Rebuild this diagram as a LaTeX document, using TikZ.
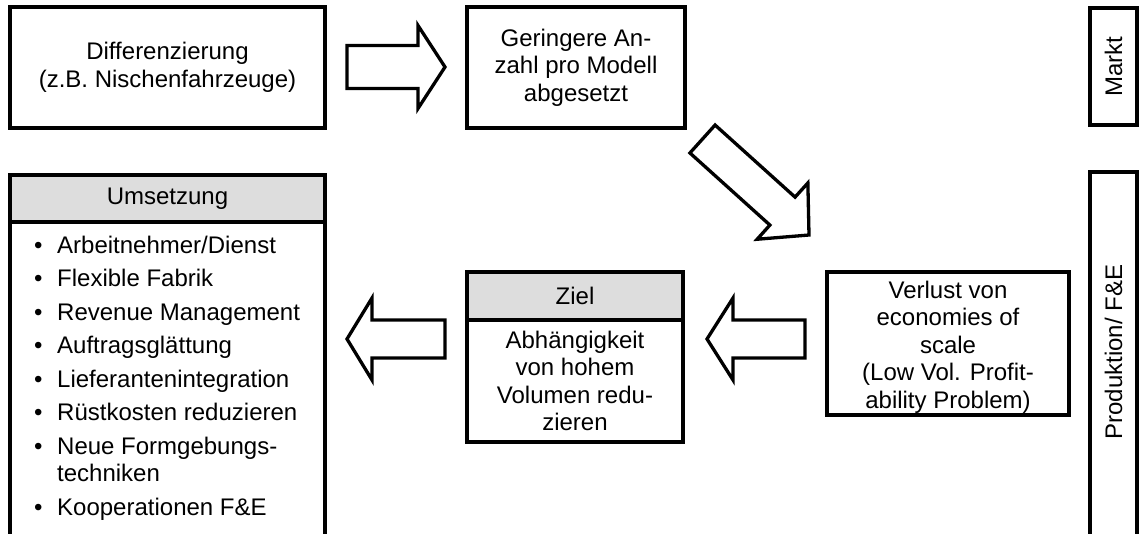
\documentclass[tikz,border=0pt]{standalone}
\usepackage{fontspec}
\setmainfont{Liberation Sans}
\usetikzlibrary{calc}
\definecolor{headgray}{RGB}{221,221,221}

\tikzset{
  frame/.style={draw=black, line width=3.3pt, inner sep=0pt, outer sep=0pt,
    align=center, font=\fontsize{24}{27.6}\selectfont},
  headbox/.style={frame, fill=headgray},
  label/.style={inner sep=0pt, align=center, font=\fontsize{24}{27.6}\selectfont},
  blockarrow/.style={draw=black, line width=3.3pt, fill=white, line join=miter},
}

% block arrow: #1 tail centre, #2 tip, #3 half shaft width,
% #4 half head width, #5 head length
\newcommand\blockarr[5]{%
  \coordinate (ba-h) at ($(#2)!#5!(#1)$);
  \draw[blockarrow]
    ($(#1)!#3!90:(#2)$) -- ($(ba-h)!#3!-90:(#1)$) -- ($(ba-h)!#4!-90:(#1)$)
    -- (#2) -- ($(ba-h)!#4!90:(#1)$) -- ($(ba-h)!#3!90:(#1)$)
    -- ($(#1)!#3!-90:(#2)$) -- cycle;
}

\begin{document}
\begin{tikzpicture}[x=1pt, y=-1pt]
\useasboundingbox (0,0) rectangle (1139,533);
\clip (0,0) rectangle (1139,533);

% market side
\node[frame, minimum width=315pt, minimum height=121pt] (diff) at (167.5,67.5)
  {Differenzierung\\(z.B. Nischenfahrzeuge)};
\node[frame, minimum width=218pt, minimum height=121pt] (anzahl) at (576,67.5)
  {Geringere An-\\zahl pro Modell\\abgesetzt};

% production side
\node[frame, minimum width=242pt, minimum height=143pt] (verlust) at (948,343.5) {};
\node[label] (verlusttxt) at ($(verlust.center)+(0,3.5)$)
  {Verlust von\\economies of\\scale\\(Low Vol. Profit-\\ability Problem)};
\node[headbox, minimum width=216pt, minimum height=48pt] (zielhead) at (575,296) {Ziel};
\node[frame, minimum width=216pt, minimum height=122pt] (zielbody) at (575,381)
  {Abhängigkeit\\von hohem\\Volumen redu-\\zieren};

% measures
\node[headbox, minimum width=315pt, minimum height=47pt] (umshead) at (167.5,198.5) {Umsetzung};
\node[frame, minimum width=315pt, minimum height=340pt, anchor=north] (umsbody) at (167.5,222) {};
\node[label, anchor=base west] (umslist) at (34,253) {%
  \begin{tabular}[t]{@{}l@{}}
  \makebox[23pt][l]{\textbullet}Arbeitnehmer/Dienst\\[5.9pt]
  \makebox[23pt][l]{\textbullet}Flexible Fabrik\\[5.9pt]
  \makebox[23pt][l]{\textbullet}Revenue Management\\[5.9pt]
  \makebox[23pt][l]{\textbullet}Auftragsglättung\\[5.9pt]
  \makebox[23pt][l]{\textbullet}Lieferantenintegration\\[5.9pt]
  \makebox[23pt][l]{\textbullet}Rüstkosten reduzieren\\[5.9pt]
  \makebox[23pt][l]{\textbullet}Neue Formgebungs-\\
  \makebox[23pt][l]{}techniken\\[5.9pt]
  \makebox[23pt][l]{\textbullet}Kooperationen F\&E
  \end{tabular}};

% side labels
\node[frame, minimum width=47pt, minimum height=117pt] (markt) at (1113.5,66.5) {};
\node[label, rotate=90] (marktlbl) at (markt.center) {Markt};
\node[frame, minimum width=47pt, minimum height=380pt, anchor=north] (prod) at (1113.5,172) {};
\node[label, rotate=90] (prodlbl) at (1113.5,352) {Produktion/ F\&E};

% block arrows
\coordinate (a1t) at ($(diff.east)+(22,-0.5)$);
\coordinate (a1h) at ($(anzahl.west)+(-22,-0.5)$);
\blockarr{a1t}{a1h}{21.5pt}{41.5pt}{27pt}

\coordinate (a2t) at ($(anzahl.south east)+(17.5,11)$);
\coordinate (a2h) at ($(verlust.north west)+(-18,-37)$);
\blockarr{a2t}{a2h}{18.8pt}{37.9pt}{35.7pt}

\coordinate (a3t) at ($(verlust.west)+(-22,-4.5)$);
\coordinate (a3h) at ($(zielhead.south east)+(24,19)$);
\blockarr{a3t}{a3h}{19pt}{41pt}{26pt}

\coordinate (a4t) at ($(zielhead.south west)+(-22,19)$);
\coordinate (a4h) at ($(umshead.south east)+(22,117)$);
\blockarr{a4t}{a4h}{19pt}{41pt}{25pt}
\end{tikzpicture}
\end{document}
